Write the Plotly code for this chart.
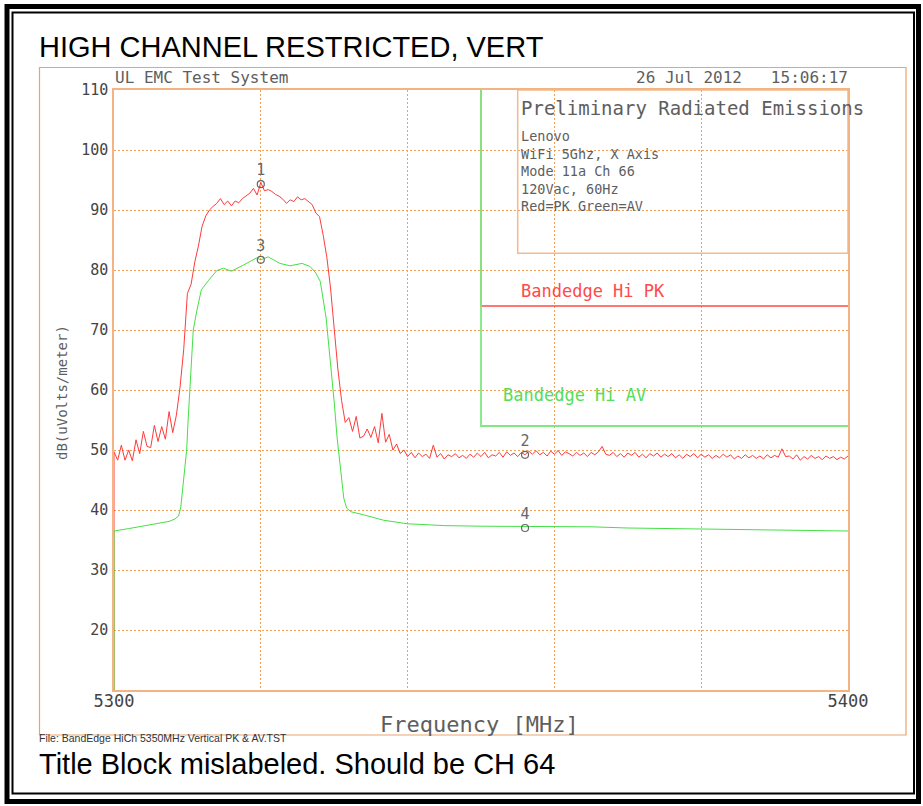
import plotly.graph_objects as go

# ---- data ----
# Red = peak sweep (0.5 MHz steps), trace starts at the floor of the graticule
red_start = 10.0;
red_freq = [ 5300 + 0.5 * i for i in range(201) ];
red_level = [
    49.7, 48.3, 50.8, 48.3, 50.0, 48.2, 51.7, 49.4, 53.1, 50.6,
    50.4, 54.1, 51.4, 53.9, 51.8, 56.4, 52.9, 55.8, 60.5, 66.8,
    76.1, 77.6, 81.3, 84.0, 87.3, 89.0, 90.0, 90.6, 91.1, 91.9,
    90.9, 91.5, 90.7, 91.5, 91.2, 91.9, 92.4, 92.8, 93.6, 92.5,
    94.6, 93.2, 93.4, 93.1, 92.6, 92.3, 91.8, 91.1, 91.7, 91.4,
    92.2, 91.7, 91.9, 91.4, 90.9, 89.5, 88.9, 85.8, 82.1, 77.0,
    69.8, 63.5, 58.3, 54.6, 55.4, 53.1, 55.6, 52.0, 52.3, 53.5,
    52.1, 53.9, 51.2, 56.1, 51.3, 52.6, 50.0, 51.0, 49.4, 50.0,
    48.9, 49.6, 48.7, 49.5, 48.9, 49.3, 48.6, 50.8, 48.8, 49.4,
    48.5, 49.2, 48.9, 49.4, 48.7, 49.1, 48.6, 49.3, 48.8, 49.5,
    48.9, 49.6, 48.7, 49.2, 49.0, 49.6, 48.8, 49.7, 49.1, 49.5,
    48.9, 49.6, 49.2, 49.8, 49.3, 49.9, 49.2, 49.6, 49.0, 49.8,
    49.3, 49.9, 49.1, 49.7, 49.4, 49.0, 49.6, 49.1, 49.5, 48.9,
    49.6, 49.2, 49.7, 50.6, 49.3, 49.1, 49.6, 48.9, 49.4, 48.8,
    49.5, 49.1, 49.6, 48.8, 49.3, 48.7, 49.4, 49.0, 49.5, 48.8,
    49.3, 48.9, 49.4, 48.7, 49.2, 48.6, 49.3, 48.9, 49.4, 48.7,
    49.3, 48.8, 49.2, 48.6, 49.1, 48.7, 49.3, 48.8, 49.2, 48.5,
    49.0, 48.6, 49.2, 48.7, 49.1, 48.6, 49.0, 48.5, 49.2, 48.7,
    49.1, 48.8, 50.2, 48.9, 49.0, 48.5, 49.2, 48.3, 48.9, 48.5,
    49.1, 48.6, 48.9, 48.4, 49.0, 48.6, 48.9, 48.4, 48.8, 48.5,
    49.0 ];

# Green = average sweep
green_freq = [
    5300.0, 5300.0, 5302.0, 5304.0, 5306.0, 5307.5, 5308.3, 5308.8, 5309.1, 5309.4,
    5309.7, 5309.9, 5310.1, 5310.35, 5310.6, 5310.8, 5311.3, 5311.9, 5312.9, 5314.0,
    5314.9, 5316.0, 5317.6, 5319.4, 5320.0, 5321.0, 5322.6, 5324.0, 5325.6, 5326.7,
    5327.5, 5328.1, 5328.9, 5329.5, 5330.0, 5330.4, 5330.9, 5331.3, 5331.7, 5332.3,
    5334.0, 5336.7, 5340.0, 5345.0, 5350.0, 5355.0, 5360.0, 5365.0, 5370.0, 5375.0,
    5380.0, 5385.0, 5390.0, 5395.0, 5400.0 ];
green_level = [
    10.0, 36.5, 36.9, 37.3, 37.7, 38.1, 38.5, 39.0, 40.5, 44.5,
    47.5, 50.0, 55.0, 60.0, 65.5, 70.0, 73.3, 76.7, 78.3, 79.9,
    80.3, 79.8, 80.8, 82.0, 81.7, 82.2, 81.1, 80.7, 81.1, 80.6,
    79.5, 78.1, 72.0, 65.0, 58.0, 52.0, 46.0, 42.0, 40.3, 39.7,
    39.2, 38.3, 37.7, 37.4, 37.3, 37.3, 37.3, 37.2, 37.0, 36.9,
    36.9, 36.8, 36.7, 36.6, 36.5 ];

# Bandedge limit lines
pk_limit_freq = [ 5350, 5350, 5400 ];
pk_limit_level = [ 110, 74, 74 ];
av_limit_freq = [ 5350, 5350, 5400 ];
av_limit_level = [ 110, 54, 54 ];

# Markers
marker_freq = [ 5320, 5356, 5320, 5356 ];
marker_level = [ 94.3, 49.2, 81.7, 37.0 ];
marker_label = [ '1', '2', '3', '4' ];

# Axes
x_ticks = [ 5300, 5320, 5340, 5360, 5380, 5400 ];
x_ticktext = [ '5300', '', '', '', '', '5400' ];
y_ticks = [ 10, 20, 30, 40, 50, 60, 70, 80, 90, 100, 110 ];
y_ticktext = [ '', '20', '30', '40', '50', '60', '70', '80', '90', '100', '110' ];

info_lines = [ 'Lenovo', 'WiFi 5Ghz, X Axis', 'Mode 11a Ch 66', '120Vac, 60Hz', 'Red=PK Green=AV' ];

# ---- layout helpers (pixel -> paper) ----
W, H = 923, 806;
PL, PR, PT, PB = 114, 848, 90, 690;

def px(x):
    return (x - PL) / (PR - PL);

def py(y):
    return (PB - y) / (PB - PT);

MONO = 'DejaVu Sans Mono';
SANS = 'Liberation Sans, Arial';
GRID = '#f0a25a';
TXT = '#5e5e5e';

fig = go.Figure();

# Red (peak) trace
fig.add_trace(go.Scatter(x = [ 5300.0 ] + red_freq, y = [ red_start ] + red_level,
                         mode = 'lines', line = { 'color': '#ff3b3b', 'width': 1 },
                         hoverinfo = 'skip'));
# Green (average) trace
fig.add_trace(go.Scatter(x = green_freq, y = green_level,
                         mode = 'lines', line = { 'color': '#45e045', 'width': 1 },
                         hoverinfo = 'skip'));
# Limits
fig.add_trace(go.Scatter(x = pk_limit_freq, y = pk_limit_level, mode = 'lines',
                         line = { 'color': '#ff4a4a', 'width': 1.3 }, hoverinfo = 'skip'));
fig.add_trace(go.Scatter(x = av_limit_freq, y = av_limit_level, mode = 'lines',
                         line = { 'color': '#7fe87f', 'width': 1.8 }, hoverinfo = 'skip'));
# Markers
fig.add_trace(go.Scatter(x = marker_freq, y = marker_level, mode = 'markers+text',
                         text = marker_label, textposition = 'top center',
                         textfont = { 'family': MONO, 'size': 15, 'color': '#666666' },
                         marker = { 'symbol': 'circle-open', 'size': 7, 'color': '#666666',
                                    'line': { 'width': 1.2 } },
                         hoverinfo = 'skip'));

# Frames
fig.add_shape(type = 'rect', xref = 'paper', yref = 'paper',
              x0 = px(7), x1 = px(918.5), y0 = py(801.5), y1 = py(6.5),
              line = { 'color': 'black', 'width': 5 });
fig.add_shape(type = 'rect', xref = 'paper', yref = 'paper',
              x0 = px(12.5), x1 = px(914), y0 = py(793.5), y1 = py(12.5),
              line = { 'color': 'black', 'width': 2 });
fig.add_shape(type = 'rect', xref = 'paper', yref = 'paper',
              x0 = px(39.5), x1 = px(906), y0 = py(735), y1 = py(67.5),
              line = { 'color': '#eba46c', 'width': 1.2 });
# Title block box
fig.add_shape(type = 'rect', xref = 'x', yref = 'y',
              x0 = 5355, x1 = 5400, y0 = 82.8, y1 = 110,
              line = { 'color': '#f5b98a', 'width': 1.5 });

def note(text, x, y, size, color = TXT, family = MONO, xanchor = 'left', angle = 0):
    fig.add_annotation(text = text, x = px(x), y = py(y), xref = 'paper', yref = 'paper',
                       showarrow = False, xanchor = xanchor, yanchor = 'middle',
                       textangle = angle, align = 'left',
                       font = { 'family': family, 'size': size, 'color': color });

note('HIGH CHANNEL RESTRICTED, VERT', 37, 47, 29, 'black', SANS);
note('Title Block mislabeled. Should be CH 64', 37, 764, 29, 'black', SANS);
note('UL EMC Test System', 113, 78, 16);
note('26 Jul 2012\u00a0\u00a0\u00a015:06:17', 850, 78, 16, xanchor = 'right');
note('Preliminary Radiated Emissions', 519, 108, 19);
note('<br>'.join(info_lines), 519, 170.5, 13.5);
note('Bandedge Hi PK', 519, 291, 17, '#ff4a4a');
note('Bandedge Hi AV', 501, 395, 17, '#55dd55');
note('dB(uVolts/meter)', 62, 392, 14, angle = -90, xanchor = 'center');
note('Frequency [MHz]', 479, 724, 22, xanchor = 'center');
note('File: BandEdge HiCh 5350MHz Vertical PK &amp; AV.TST', 37, 738, 10.5, '#333333', SANS);

fig.update_xaxes(range = [ 5300, 5400 ], tickvals = x_ticks, ticktext = x_ticktext,
                 showgrid = True, gridcolor = GRID, griddash = '2px,2px', gridwidth = 1,
                 showline = True, mirror = True, linecolor = '#f2b483', linewidth = 1.5,
                 zeroline = False, ticks = '', ticklabelstandoff = -5,
                 tickfont = { 'family': MONO, 'size': 17, 'color': '#444444' });
fig.update_yaxes(range = [ 10, 110 ], tickvals = y_ticks, ticktext = y_ticktext,
                 showgrid = True, gridcolor = GRID, griddash = '2px,2px', gridwidth = 1,
                 showline = True, mirror = True, linecolor = '#f2b483', linewidth = 1.5,
                 zeroline = False, ticks = '', ticklabelstandoff = 1,
                 tickfont = { 'family': MONO, 'size': 15, 'color': '#444444' });
fig.update_layout(width = W, height = H, autosize = False, showlegend = False,
                  margin = { 'l': PL, 'r': W - PR, 't': PT, 'b': H - PB },
                  plot_bgcolor = 'white', paper_bgcolor = 'white');

# page has a default 8px body margin; drop it so the figure sits at 0,0
fig.write_html("out.html", config = { 'displayModeBar': False },
               post_script = "document.body.style.margin = '0';");
